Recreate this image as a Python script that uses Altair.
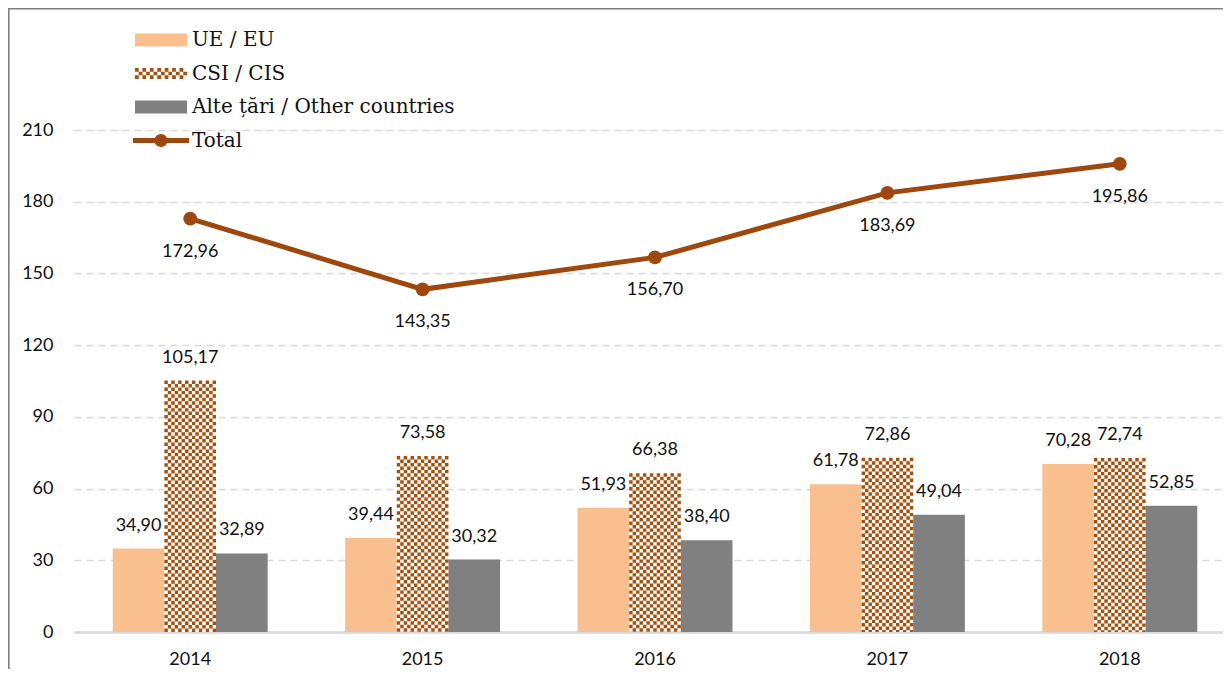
import altair as alt
import pandas as pd

# ---- data ----
years = ["2014", "2015", "2016", "2017", "2018"]
eu = [34.90, 39.44, 51.93, 61.78, 70.28]
cis = [105.17, 73.58, 66.38, 72.86, 72.74]
other = [32.89, 30.32, 38.40, 49.04, 52.85]
total = [172.96, 143.35, 156.70, 183.69, 195.86]
series_names = ["UE /  EU", "CSI / CIS", "Alte țări / Other countries"]
total_name = "Total"
y_ticks = [0, 30, 60, 90, 120, 150, 180, 210]

c_eu = "#F9BF8F"
c_cis = "#A84F0C"
c_other = "#808080"
c_total = "#9E480E"
all_names = series_names + [total_name]
all_colors = [c_eu, c_cis, c_other, c_total]

# ---- layout ----
W, H = 1149, 502
PAD = {"left": 66, "top": 122, "right": 0, "bottom": 37}
X_RANGE = 1162
NCOL = 15          # checker columns per bar
NSLOT = 3 * NCOL
CELL = (X_RANGE / 5) * (1 - 1 / 3) / NSLOT
FONT = "Lato"

# ---- tables ----
bars_df = pd.DataFrame({
    "year": years * 3,
    "series": [series_names[0]] * 5 + [series_names[1]] * 5 + [series_names[2]] * 5,
    "value": eu + cis + other,
})
checker_rows = []
for y, v in zip(years, cis):
    for c in range(NCOL):
        checker_rows.append({"year": y, "value": v, "slot": NCOL + c, "odd": c % 2})
checker_df = pd.DataFrame(checker_rows)
total_df = pd.DataFrame({"year": years, "value": total})
legend_df = pd.DataFrame({"series": all_names})


def rect_path(w, h):
    return f"M{-w},{-h}H{w}V{h}H{-w}Z"


def checker_path(w, rows, cols):
    s = 2 * w / cols
    h0 = -rows * s / 2
    parts = []
    for r in range(rows):
        for c in range(cols):
            if (r + c) % 2 == 0:
                x = -w + c * s
                yy = h0 + r * s
                parts.append(f"M{x:.4f},{yy:.4f}h{s:.4f}v{s:.4f}h{-s:.4f}Z")
    return "".join(parts)


total_path = rect_path(2.8, 0.25) + "M0.65,0A0.65,0.65 0 1,1 -0.65,0A0.65,0.65 0 1,1 0.65,0Z"
shapes = [rect_path(2.6, 0.65), checker_path(2.6, 3, 14), rect_path(2.6, 0.65), total_path]

label_expr = "replace(format(datum.value, '.2f'), '.', ',')"

xscale = alt.Scale(domain=years, range=[0, X_RANGE], paddingInner=1 / 3, paddingOuter=1 / 6)
yscale = alt.Scale(domain=[0, 210])
offscale = alt.Scale(domain=series_names)

x_axis = alt.Axis(title=None, labelFont=FONT, labelFontSize=18, labelColor="#111111",
                  labelAngle=0, ticks=False, domainColor="#d9d9d9", domainWidth=2.5,
                  labelPadding=18, grid=False)
y_axis = alt.Axis(title=None, values=y_ticks, labelFont=FONT, labelFontSize=18,
                  labelColor="#111111", ticks=False, domain=False, labelPadding=21,
                  grid=True, gridColor="#d9d9d9", gridWidth=1.6, gridDash=[7, 5])

X = alt.X("year:N", scale=xscale, axis=x_axis)
Y = alt.Y("value:Q", scale=yscale, axis=y_axis)


def bar_layer(name, fill):
    return alt.Chart(bars_df).transform_filter(alt.datum.series == name).mark_bar(
        color=fill).encode(
        x=X, xOffset=alt.XOffset("series:N", scale=offscale), y=Y)


def checker_layer(odd):
    return alt.Chart(checker_df).transform_filter(alt.datum.odd == odd).mark_rule(
        color=c_cis, strokeWidth=CELL, strokeDash=[CELL, CELL],
        strokeDashOffset=CELL if odd else 0,
    ).encode(
        x=X,
        xOffset=alt.XOffset("slot:O", scale=alt.Scale(domain=list(range(NSLOT)))),
        y=Y,
        y2=alt.datum(0),
    )


bar_labels = alt.Chart(bars_df).transform_calculate(label=label_expr).mark_text(
    font=FONT, fontSize=18, color="#111111", baseline="bottom", dy=-14,
).encode(x=X, xOffset=alt.XOffset("series:N", scale=offscale), y=Y, text="label:N")

line = alt.Chart(total_df).mark_line(color=c_total, strokeWidth=5).encode(x=X, y=Y)
pts = alt.Chart(total_df).mark_point(filled=True, color=c_total, size=190, opacity=1).encode(x=X, y=Y)
total_labels = alt.Chart(total_df).transform_calculate(label=label_expr).mark_text(
    font=FONT, fontSize=18, color="#111111", baseline="middle", dy=33,
).encode(x=X, y=Y, text="label:N")

leg = alt.Legend(title=None, orient="none", legendX=77, legendY=-100, symbolSize=400,
                 labelOffset=21, rowPadding=13.5, labelFont="DejaVu Serif", labelFontSize=20,
                 labelColor="#111111", labelLimit=600, symbolStrokeWidth=0, symbolOpacity=1)
legend_pts = alt.Chart(legend_df).mark_point(filled=True, size=400, opacity=1).encode(
    x=alt.value(-3000), y=alt.value(-3000),
    color=alt.Color("series:N", scale=alt.Scale(domain=all_names, range=all_colors), legend=leg),
    shape=alt.Shape("series:N", scale=alt.Scale(domain=all_names, range=shapes), legend=leg),
)

one = pd.DataFrame({"k": [0]})
frame_v = alt.Chart(one).mark_rule(color="#7f7f7f", strokeWidth=1.6).encode(
    x=alt.value(-PAD["left"] + 0.8), y=alt.value(-PAD["top"]), y2=alt.value(H + PAD["bottom"]))
frame_h = alt.Chart(one).mark_rule(color="#7f7f7f", strokeWidth=1.6).encode(
    y=alt.value(-PAD["top"] + 0.8), x=alt.value(-PAD["left"]), x2=alt.value(W + 20))

chart = alt.layer(
    bar_layer(series_names[0], c_eu), bar_layer(series_names[1], "white"),
    bar_layer(series_names[2], c_other),
    checker_layer(0), checker_layer(1), bar_labels, line, pts, total_labels,
    legend_pts, frame_v, frame_h,
).resolve_scale(xOffset="independent").properties(
    width=W, height=H, padding=PAD, autosize=alt.AutoSizeParams(type="none"),
).configure_view(stroke=None)

chart.save("out.html", embed_options={"renderer": "svg", "actions": False})
